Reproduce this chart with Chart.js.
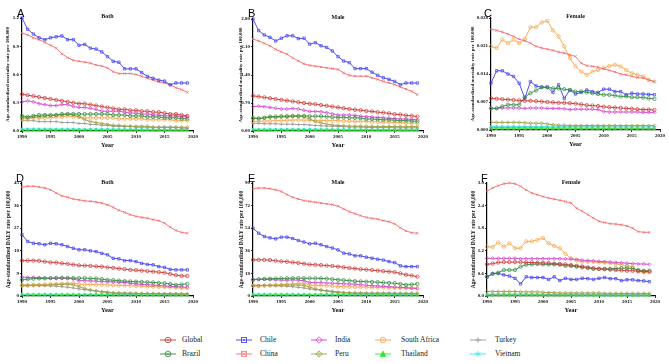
<!DOCTYPE html>
<html>
<head>
<meta charset="utf-8">
<script src="https://cdn.jsdelivr.net/npm/chart.js@4.4.1/dist/chart.umd.min.js"></script>
<style>
body { margin: 0; background: #fff; width: 669px; height: 364px; position: relative; overflow: hidden; }
canvas { position: absolute; }
.letter { position: absolute; font-family: "Liberation Sans", Arial, sans-serif; font-size: 11px; line-height: 11px; color: #000; }
.lg { position: absolute; font-family: "Liberation Serif", "Times New Roman", serif; font-size: 7.5px; color: #222; line-height: 8px; }
.lg svg { position: absolute; }
</style>
</head>
<body>
<canvas id="pA" width="200" height="160" style="left:0;top:0"></canvas>
<canvas id="pB" width="200" height="160" style="left:230px;top:0"></canvas>
<canvas id="pC" width="200" height="160" style="left:467px;top:0"></canvas>
<canvas id="pD" width="200" height="150" style="left:0;top:170px"></canvas>
<canvas id="pE" width="200" height="150" style="left:230px;top:170px"></canvas>
<canvas id="pF" width="200" height="150" style="left:463px;top:170px"></canvas>
<div class="letter" style="left:17px;top:8px">A</div>
<div class="letter" style="left:248px;top:8px">B</div>
<div class="letter" style="left:484px;top:8px">C</div>
<div class="letter" style="left:16px;top:173px">D</div>
<div class="letter" style="left:248px;top:173px">E</div>
<div class="letter" style="left:481px;top:173px">F</div>
<div id="legend"></div>
<script>
const years = [1990,1991,1992,1993,1994,1995,1996,1997,1998,1999,2000,2001,2002,2003,2004,2005,2006,2007,2008,2009,2010,2011,2012,2013,2014,2015,2016,2017,2018,2019];
const countries = ['Global','Brazil','Chile','China','India','Peru','South Africa','Thailand','Turkey','Vietnam'];
const colors = ['#cc3333','#2e8b3e','#3d3df0','#f36b6b','#d23fd2','#9c9c3c','#f7a545','#2ee62e','#9a9a9a','#3ee8e8'];
const markers = ['circle','circle','rect','crossRot','rectRot','rectRot','circle','triangle','cross','star'];

// A: mortality, both
const aGlobal = [0.39,0.38,0.37,0.36,0.35,0.34,0.33,0.32,0.31,0.30,0.29,0.29,0.28,0.27,0.26,0.25,0.24,0.23,0.23,0.22,0.22,0.21,0.21,0.20,0.20,0.19,0.18,0.18,0.17,0.16];
const aBrazil = [0.16,0.15,0.16,0.17,0.17,0.17,0.17,0.18,0.18,0.18,0.18,0.18,0.18,0.18,0.18,0.18,0.17,0.17,0.17,0.16,0.16,0.16,0.15,0.15,0.15,0.14,0.14,0.14,0.13,0.13];
const aChile = [1.20,1.08,1.03,0.99,0.97,0.99,1.00,1.01,0.97,0.97,0.91,0.92,0.88,0.87,0.84,0.79,0.74,0.73,0.66,0.66,0.66,0.62,0.58,0.56,0.54,0.53,0.49,0.51,0.51,0.51];
const aChina = [1.04,1.02,0.99,0.97,0.94,0.91,0.88,0.82,0.78,0.75,0.74,0.73,0.72,0.70,0.69,0.67,0.63,0.61,0.61,0.61,0.60,0.58,0.56,0.54,0.52,0.51,0.49,0.46,0.44,0.41];
const aIndia = [0.31,0.32,0.31,0.29,0.28,0.27,0.27,0.28,0.28,0.26,0.25,0.25,0.24,0.23,0.21,0.21,0.21,0.21,0.20,0.19,0.19,0.18,0.18,0.17,0.17,0.16,0.16,0.16,0.15,0.15];
const aPeru = [0.14,0.14,0.15,0.15,0.16,0.16,0.17,0.17,0.18,0.17,0.15,0.12,0.10,0.09,0.08,0.07,0.06,0.06,0.05,0.05,0.05,0.05,0.05,0.04,0.04,0.04,0.04,0.04,0.04,0.04];
const aSouthAfrica = [0.13,0.13,0.14,0.14,0.14,0.14,0.15,0.15,0.16,0.15,0.15,0.14,0.14,0.14,0.14,0.14,0.14,0.13,0.13,0.13,0.13,0.13,0.12,0.12,0.12,0.12,0.12,0.11,0.11,0.11];
const aThailand = [0.010,0.010,0.010,0.011,0.011,0.011,0.011,0.011,0.011,0.011,0.010,0.010,0.010,0.010,0.010,0.009,0.009,0.009,0.009,0.009,0.009,0.008,0.008,0.008,0.008,0.008,0.008,0.008,0.008,0.008];
const aTurkey = [0.11,0.11,0.11,0.10,0.10,0.10,0.10,0.09,0.09,0.09,0.08,0.08,0.07,0.07,0.06,0.06,0.05,0.05,0.05,0.05,0.04,0.04,0.04,0.04,0.04,0.04,0.04,0.04,0.03,0.03];
const aVietnam = [0.022,0.022,0.022,0.022,0.022,0.022,0.021,0.021,0.021,0.021,0.021,0.020,0.020,0.020,0.020,0.019,0.019,0.019,0.019,0.018,0.018,0.018,0.018,0.017,0.017,0.017,0.017,0.016,0.016,0.016];

// B: mortality, male
const bGlobal = [0.88,0.86,0.84,0.82,0.80,0.78,0.76,0.74,0.72,0.70,0.68,0.67,0.65,0.63,0.61,0.59,0.57,0.55,0.53,0.52,0.50,0.49,0.47,0.46,0.44,0.42,0.41,0.39,0.38,0.36];
const bBrazil = [0.32,0.31,0.33,0.36,0.36,0.37,0.37,0.38,0.38,0.38,0.37,0.37,0.37,0.36,0.35,0.34,0.34,0.33,0.33,0.32,0.30,0.30,0.29,0.28,0.28,0.27,0.26,0.26,0.25,0.24];
const bChile = [2.80,2.51,2.40,2.34,2.25,2.32,2.38,2.38,2.31,2.32,2.17,2.21,2.13,2.09,2.00,1.86,1.75,1.71,1.56,1.56,1.56,1.47,1.39,1.33,1.29,1.24,1.16,1.20,1.20,1.20];
const bChina = [2.30,2.25,2.19,2.13,2.04,1.98,1.92,1.83,1.75,1.68,1.64,1.62,1.60,1.58,1.56,1.54,1.45,1.39,1.37,1.37,1.37,1.33,1.29,1.24,1.20,1.16,1.10,1.05,0.99,0.91];
const bIndia = [0.61,0.62,0.61,0.59,0.57,0.55,0.55,0.56,0.55,0.52,0.49,0.49,0.48,0.46,0.43,0.40,0.40,0.40,0.39,0.37,0.36,0.35,0.34,0.33,0.32,0.31,0.30,0.30,0.29,0.28];
const bPeru = [0.32,0.32,0.33,0.34,0.34,0.35,0.35,0.36,0.36,0.35,0.30,0.24,0.20,0.17,0.15,0.14,0.13,0.12,0.12,0.12,0.12,0.11,0.11,0.11,0.11,0.11,0.11,0.11,0.11,0.11];
const bSouthAfrica = [0.24,0.24,0.25,0.25,0.26,0.26,0.27,0.27,0.28,0.27,0.27,0.26,0.26,0.26,0.26,0.26,0.25,0.25,0.24,0.24,0.24,0.23,0.23,0.22,0.22,0.21,0.21,0.20,0.20,0.19];
const bThailand = [0.022,0.022,0.023,0.023,0.024,0.024,0.024,0.024,0.024,0.023,0.023,0.022,0.022,0.022,0.021,0.021,0.020,0.020,0.020,0.019,0.019,0.019,0.018,0.018,0.018,0.018,0.017,0.017,0.017,0.017];
const bTurkey = [0.19,0.19,0.18,0.18,0.18,0.17,0.17,0.17,0.16,0.16,0.15,0.14,0.13,0.12,0.12,0.11,0.11,0.10,0.10,0.10,0.09,0.09,0.09,0.09,0.09,0.08,0.08,0.08,0.08,0.08];
const bVietnam = [0.048,0.048,0.047,0.047,0.047,0.046,0.046,0.046,0.045,0.045,0.045,0.044,0.044,0.043,0.043,0.042,0.042,0.041,0.041,0.040,0.040,0.039,0.039,0.038,0.038,0.037,0.037,0.036,0.036,0.036];

// C: mortality, female
const cGlobal = [0.0079,0.0078,0.0077,0.0076,0.0075,0.0074,0.0073,0.0073,0.0072,0.0071,0.0070,0.0069,0.0068,0.0068,0.0067,0.0066,0.0064,0.0062,0.0061,0.0060,0.0058,0.0057,0.0056,0.0055,0.0054,0.0053,0.0052,0.0051,0.0051,0.0050];
const cBrazil = [0.0054,0.0054,0.0059,0.0063,0.0063,0.0063,0.0082,0.0092,0.0099,0.0107,0.0107,0.0104,0.0104,0.0102,0.0100,0.0096,0.0096,0.0094,0.0092,0.0090,0.0088,0.0088,0.0086,0.0084,0.0084,0.0082,0.0082,0.0081,0.0079,0.0078];
const cChile = [0.0117,0.0148,0.0148,0.0140,0.0134,0.0117,0.0079,0.0121,0.0110,0.0107,0.0107,0.0094,0.0113,0.0079,0.0100,0.0090,0.0094,0.0100,0.0096,0.0094,0.0102,0.0102,0.0096,0.0096,0.0088,0.0092,0.0090,0.0090,0.0089,0.0088];
const cChina = [0.0252,0.0249,0.0245,0.0240,0.0234,0.0227,0.0223,0.0217,0.0209,0.0205,0.0202,0.0199,0.0195,0.0192,0.0188,0.0184,0.0167,0.0161,0.0159,0.0157,0.0153,0.0149,0.0145,0.0140,0.0138,0.0134,0.0131,0.0130,0.0125,0.0121];
const cIndia = [0.0054,0.0054,0.0055,0.0055,0.0055,0.0055,0.0054,0.0055,0.0055,0.0055,0.0054,0.0054,0.0054,0.0053,0.0051,0.0052,0.0052,0.0052,0.0052,0.0051,0.0046,0.0045,0.0045,0.0045,0.0045,0.0045,0.0045,0.0044,0.0044,0.0044];
const cPeru = [0.0019,0.0019,0.0019,0.0019,0.0019,0.0019,0.0018,0.0017,0.0017,0.0017,0.0015,0.0013,0.0012,0.0012,0.0011,0.0011,0.0011,0.0011,0.0011,0.0011,0.0011,0.0011,0.0011,0.0011,0.0011,0.0011,0.0011,0.0011,0.0011,0.0011];
const cSouthAfrica = [0.0209,0.0205,0.0226,0.0217,0.0226,0.0217,0.0227,0.0257,0.0257,0.0269,0.0273,0.0249,0.0234,0.0209,0.0180,0.0159,0.0146,0.0138,0.0146,0.0150,0.0155,0.0160,0.0163,0.0159,0.0150,0.0142,0.0138,0.0134,0.0125,0.0121];
const cThailand = [0.00030,0.00030,0.00031,0.00031,0.00031,0.00032,0.00032,0.00032,0.00032,0.00031,0.00031,0.00031,0.00030,0.00030,0.00030,0.00029,0.00029,0.00029,0.00028,0.00028,0.00028,0.00027,0.00027,0.00027,0.00026,0.00026,0.00026,0.00025,0.00025,0.00025];
const cTurkey = [0.00060,0.00060,0.00059,0.00059,0.00058,0.00058,0.00057,0.00056,0.00056,0.00055,0.00054,0.00053,0.00052,0.00051,0.00050,0.00049,0.00048,0.00047,0.00046,0.00046,0.00045,0.00045,0.00044,0.00044,0.00044,0.00043,0.00043,0.00043,0.00042,0.00042];
const cVietnam = [0.00090,0.00090,0.00089,0.00089,0.00089,0.00088,0.00088,0.00088,0.00087,0.00087,0.00086,0.00086,0.00085,0.00085,0.00085,0.00084,0.00084,0.00083,0.00083,0.00082,0.00082,0.00081,0.00081,0.00080,0.00080,0.00080,0.00079,0.00079,0.00078,0.00078];

// D: DALY, both
const dGlobal = [14.1,14.1,14.1,14.0,13.7,13.4,13.3,13.0,12.8,12.5,12.2,12.1,12.0,11.8,11.7,11.4,11.2,10.9,10.7,10.4,10.3,10.1,9.9,9.7,9.5,9.3,8.8,8.3,8.0,8.0];
const dBrazil = [6.4,6.7,6.9,7.0,7.0,7.1,7.2,7.2,7.2,7.1,7.1,7.1,7.0,6.9,6.7,6.4,6.3,6.1,5.9,5.8,5.7,5.6,5.5,5.4,5.2,5.1,4.8,4.4,4.6,4.8];
const dChile = [24.4,21.7,21.0,20.8,20.4,21.0,20.8,20.4,19.7,19.0,18.4,18.4,18.0,17.7,17.0,16.4,15.0,14.8,14.1,14.1,13.7,13.0,12.6,12.4,11.7,11.4,10.6,10.4,10.4,10.4];
const dChina = [43.4,43.7,43.7,43.4,43.0,42.3,41.0,39.9,39.3,38.6,38.3,37.9,37.7,37.4,37.0,36.3,35.3,34.1,33.3,32.4,31.7,31.3,31.0,30.4,30.0,29.0,27.4,26.1,25.3,25.0];
const dIndia = [7.5,7.4,7.4,7.3,7.2,7.1,7.0,7.1,7.0,6.8,6.1,6.1,6.0,5.9,5.8,5.7,5.6,5.5,5.4,5.1,4.8,4.6,4.5,4.3,4.2,4.0,3.9,3.7,3.6,3.5];
const dPeru = [4.0,4.1,4.2,4.3,4.3,4.4,4.5,4.6,4.7,4.4,3.7,3.0,2.4,2.0,1.6,1.3,1.2,1.1,1.1,1.1,1.1,1.0,1.0,1.0,0.9,0.9,0.9,0.9,0.8,0.8];
const dSouthAfrica = [4.4,4.3,4.5,4.5,4.6,4.7,4.8,4.9,5.0,5.1,4.7,4.6,4.6,4.5,4.5,4.4,4.3,4.2,4.2,4.1,4.0,3.9,3.8,3.7,3.6,3.5,3.4,3.3,3.2,3.1];
const dThailand = [0.40,0.40,0.41,0.41,0.42,0.42,0.42,0.42,0.42,0.41,0.41,0.40,0.40,0.40,0.39,0.39,0.38,0.38,0.38,0.37,0.37,0.37,0.36,0.36,0.36,0.35,0.35,0.35,0.34,0.34];
const dTurkey = [4.4,4.3,4.2,4.1,4.1,4.0,3.9,3.7,3.5,3.2,2.8,2.5,2.3,2.0,1.8,1.6,1.3,1.2,1.1,1.1,1.0,1.0,1.0,1.0,1.0,0.9,0.9,0.9,0.9,0.9];
const dVietnam = [0.75,0.75,0.74,0.74,0.74,0.73,0.73,0.72,0.72,0.72,0.71,0.71,0.70,0.70,0.69,0.69,0.68,0.68,0.67,0.67,0.66,0.66,0.65,0.65,0.64,0.64,0.63,0.63,0.62,0.62];

// E: DALY, male
const eGlobal = [28.8,28.8,28.8,28.6,28.1,27.6,27.3,26.8,26.3,25.7,25.1,24.8,24.6,24.2,23.9,23.4,22.9,22.3,21.9,21.3,21.0,20.6,20.2,19.8,19.4,19.0,18.0,16.9,16.3,15.4];
const eBrazil = [12.8,13.3,13.6,13.8,13.9,14.0,14.1,14.2,14.2,14.1,14.1,14.1,14.0,13.8,13.4,12.9,12.6,12.2,11.8,11.6,11.4,11.2,11.0,10.7,10.4,10.2,9.6,8.8,9.2,9.6];
const eChile = [54.0,50.0,47.4,46.3,45.5,46.9,46.9,45.8,44.2,43.0,41.5,42.0,40.8,39.4,38.2,36.7,34.1,33.5,32.0,32.0,30.9,30.1,29.3,28.6,27.4,26.6,24.0,23.4,23.4,23.4];
const eChina = [85.5,86.0,86.0,85.5,84.6,83.2,80.8,78.6,77.2,76.0,75.3,74.6,74.0,73.4,72.8,71.5,69.4,67.2,65.6,64.0,62.6,61.8,61.2,60.0,59.2,57.4,54.4,51.8,50.4,50.0];
const eIndia = [13.3,13.2,13.2,13.0,12.9,12.7,12.6,12.8,12.6,12.2,10.7,10.7,10.6,10.4,10.2,10.0,9.8,9.6,9.4,9.0,8.6,8.2,8.0,7.7,7.4,7.1,6.9,6.6,6.3,6.1];
const ePeru = [8.0,8.2,8.4,8.6,8.6,8.7,8.8,8.8,8.8,8.4,7.0,5.8,4.8,3.9,3.2,2.7,2.5,2.4,2.3,2.3,2.3,2.2,2.2,2.2,2.2,2.1,2.1,2.1,2.1,2.1];
const eSouthAfrica = [8.0,7.8,8.3,8.4,8.6,8.9,9.2,9.5,9.8,10.1,8.8,8.5,8.4,8.2,8.0,7.5,7.4,7.3,7.2,7.1,7.0,6.9,6.8,6.7,6.6,6.5,6.4,6.3,6.2,6.1];
const eThailand = [0.80,0.80,0.81,0.82,0.83,0.83,0.84,0.84,0.84,0.83,0.82,0.81,0.80,0.79,0.79,0.78,0.77,0.76,0.75,0.75,0.74,0.73,0.73,0.72,0.71,0.71,0.70,0.70,0.69,0.69];
const eTurkey = [8.8,8.6,8.4,8.2,8.1,7.9,7.7,7.4,6.9,6.4,5.6,5.0,4.6,4.3,3.8,3.3,2.8,2.6,2.4,2.3,2.2,2.2,2.2,2.2,2.2,2.1,2.1,2.1,2.1,2.1];
const eVietnam = [1.50,1.50,1.49,1.48,1.48,1.47,1.46,1.45,1.45,1.44,1.43,1.42,1.41,1.40,1.39,1.38,1.37,1.36,1.35,1.34,1.33,1.32,1.31,1.30,1.29,1.28,1.27,1.26,1.25,1.24];

// F: DALY, female
const fGlobal = [0.84,0.86,0.89,0.90,0.90,0.90,0.90,0.89,0.89,0.88,0.88,0.87,0.86,0.85,0.84,0.82,0.80,0.78,0.76,0.74,0.72,0.71,0.70,0.69,0.68,0.67,0.67,0.66,0.65,0.65];
const fBrazil = [0.51,0.59,0.62,0.69,0.69,0.69,0.78,0.83,0.84,0.85,0.84,0.84,0.84,0.83,0.80,0.80,0.78,0.76,0.74,0.72,0.72,0.72,0.72,0.73,0.74,0.74,0.73,0.69,0.67,0.67];
const fChile = [0.51,0.59,0.60,0.56,0.53,0.47,0.32,0.51,0.49,0.49,0.49,0.44,0.51,0.41,0.47,0.44,0.44,0.47,0.46,0.44,0.47,0.49,0.46,0.46,0.41,0.43,0.43,0.41,0.40,0.38];
const fChina = [2.78,2.87,2.93,2.98,3.00,2.98,2.91,2.82,2.73,2.69,2.64,2.60,2.57,2.54,2.51,2.47,2.33,2.25,2.16,2.07,1.98,1.95,1.92,1.91,1.89,1.86,1.80,1.71,1.69,1.69];
const fIndia = [1.00,1.00,1.00,1.00,1.00,1.00,0.99,0.99,0.99,0.99,0.99,0.99,0.99,0.99,0.98,0.98,0.97,0.95,0.94,0.93,0.92,0.91,0.90,0.89,0.88,0.87,0.86,0.85,0.85,0.84];
const fPeru = [0.12,0.12,0.12,0.12,0.12,0.12,0.11,0.11,0.11,0.11,0.10,0.09,0.09,0.08,0.08,0.08,0.08,0.08,0.08,0.08,0.08,0.07,0.07,0.07,0.07,0.07,0.07,0.07,0.07,0.07];
const fSouthAfrica = [1.31,1.30,1.42,1.31,1.40,1.27,1.27,1.45,1.45,1.49,1.54,1.40,1.33,1.27,1.12,1.00,0.94,0.91,0.91,0.91,0.89,0.89,0.87,0.85,0.83,0.80,0.78,0.65,0.63,0.63];
const fThailand = [0.020,0.020,0.021,0.021,0.021,0.022,0.022,0.022,0.022,0.021,0.021,0.021,0.020,0.020,0.020,0.019,0.019,0.019,0.019,0.018,0.018,0.018,0.018,0.017,0.017,0.017,0.017,0.016,0.016,0.016];
const fTurkey = [0.032,0.032,0.031,0.031,0.031,0.030,0.030,0.030,0.029,0.029,0.028,0.028,0.027,0.027,0.026,0.026,0.025,0.025,0.025,0.024,0.024,0.024,0.023,0.023,0.023,0.023,0.022,0.022,0.022,0.022];
const fVietnam = [0.052,0.052,0.051,0.051,0.051,0.050,0.050,0.050,0.049,0.049,0.049,0.048,0.048,0.048,0.047,0.047,0.047,0.046,0.046,0.046,0.045,0.045,0.045,0.044,0.044,0.044,0.043,0.043,0.043,0.043];

const mortTitle = 'Age-standardized mortality rate per 100,000';
const dalyTitle = 'Age-standardized DALY rate per 100,000';

// small plugin for the Both/Male/Female caption above each plot
const panelTitle = {
    id: 'panelTitle',
    afterDraw(chart, args, opts) {
        const { ctx, chartArea } = chart;
        ctx.save();
        ctx.font = 'bold 6px "Liberation Serif"';
        ctx.fillStyle = '#111';
        ctx.textAlign = 'center';
        ctx.textBaseline = 'alphabetic';
        ctx.fillText(opts.text, (chartArea.left + chartArea.right) / 2, chartArea.top + opts.dy);
        ctx.restore();
    }
};

function makePanel(id, p) {
    const datasets = p.series.map((arr, i) => ({
        label: countries[i],
        data: arr.map((v, j) => ({ x: years[j], y: v })),
        borderColor: colors[i],
        backgroundColor: 'rgba(0,0,0,0)',
        pointBorderColor: colors[i],
        pointBackgroundColor: 'rgba(255,255,255,0)',
        pointStyle: markers[i],
        pointRadius: 1.7,
        pointBorderWidth: 0.7,
        borderWidth: 0.9,
        tension: 0,
        clip: false
    }));
    new Chart(document.getElementById(id), {
        type: 'line',
        data: { datasets },
        plugins: [panelTitle],
        options: {
            responsive: false,
            animation: false,
            layout: { padding: { top: p.padTop, right: p.padRight, left: 0, bottom: 0 } },
            scales: {
                x: {
                    type: 'linear',
                    min: 1990,
                    max: 2020,
                    afterFit: s => { s.height = p.xHeight; },
                    border: { display: true, color: '#000', width: 1.2 },
                    grid: { display: true, drawOnChartArea: false, drawTicks: true, tickLength: 2, color: '#000', lineWidth: 0.8 },
                    ticks: {
                        stepSize: 5,
                        padding: 1,
                        color: '#111',
                        maxRotation: 0,
                        font: { family: 'Liberation Serif', size: 5, weight: 'bold' },
                        callback: v => String(v)
                    },
                    title: {
                        display: true,
                        text: 'Year',
                        color: '#111',
                        padding: { top: 0, bottom: p.xTitlePad },
                        font: { family: 'Liberation Serif', size: 6.5, weight: 'bold' }
                    }
                },
                y: {
                    min: 0,
                    max: p.yMax,
                    afterFit: s => { s.width = p.yWidth; },
                    border: { display: true, color: '#000', width: 1.2 },
                    grid: { display: true, drawOnChartArea: false, drawTicks: true, tickLength: 2, color: '#000', lineWidth: 0.8 },
                    ticks: {
                        stepSize: p.yStep,
                        padding: 1,
                        color: '#111',
                        font: { family: 'Liberation Serif', size: 5, weight: 'bold' },
                        callback: v => p.dec === 0 ? String(Math.round(v)) : Number(v).toFixed(p.dec)
                    },
                    title: {
                        display: true,
                        text: p.yTitle,
                        color: '#111',
                        padding: { top: p.yTitlePad, bottom: 0 },
                        font: { family: 'Liberation Serif', size: p.yTitleSize, weight: 'bold' }
                    }
                }
            },
            plugins: {
                legend: { display: false },
                tooltip: { enabled: false },
                panelTitle: { text: p.title, dy: p.titleDy }
            }
        }
    });
}

makePanel('pA', { series: [aGlobal,aBrazil,aChile,aChina,aIndia,aPeru,aSouthAfrica,aThailand,aTurkey,aVietnam],
    yMax: 1.2, yStep: 0.3, dec: 1, yTitle: mortTitle, yTitleSize: 5, yTitlePad: 5, title: 'Both', titleDy: 0,
    padTop: 18, padRight: 7, yWidth: 22, xHeight: 29, xTitlePad: 11 });
makePanel('pB', { series: [bGlobal,bBrazil,bChile,bChina,bIndia,bPeru,bSouthAfrica,bThailand,bTurkey,bVietnam],
    yMax: 2.8, yStep: 0.7, dec: 2, yTitle: mortTitle, yTitleSize: 5, yTitlePad: 8, title: 'Male', titleDy: 0,
    padTop: 19, padRight: 7, yWidth: 23, xHeight: 29, xTitlePad: 11 });
makePanel('pC', { series: [cGlobal,cBrazil,cChile,cChina,cIndia,cPeru,cSouthAfrica,cThailand,cTurkey,cVietnam],
    yMax: 0.028, yStep: 0.007, dec: 3, yTitle: mortTitle, yTitleSize: 5, yTitlePad: 3, title: 'Female', titleDy: 0,
    padTop: 18, padRight: 7, yWidth: 24, xHeight: 30, xTitlePad: 12 });
makePanel('pD', { series: [dGlobal,dBrazil,dChile,dChina,dIndia,dPeru,dSouthAfrica,dThailand,dTurkey,dVietnam],
    yMax: 45, yStep: 9, dec: 0, yTitle: dalyTitle, yTitleSize: 5.5, yTitlePad: 5, title: 'Both', titleDy: 1,
    padTop: 13, padRight: 7, yWidth: 22, xHeight: 24, xTitlePad: 6 });
makePanel('pE', { series: [eGlobal,eBrazil,eChile,eChina,eIndia,ePeru,eSouthAfrica,eThailand,eTurkey,eVietnam],
    yMax: 90, yStep: 18, dec: 0, yTitle: dalyTitle, yTitleSize: 5.5, yTitlePad: 8, title: 'Male', titleDy: 1,
    padTop: 13, padRight: 7, yWidth: 23, xHeight: 24, xTitlePad: 6 });
makePanel('pF', { series: [fGlobal,fBrazil,fChile,fChina,fIndia,fPeru,fSouthAfrica,fThailand,fTurkey,fVietnam],
    yMax: 3.0, yStep: 0.6, dec: 1, yTitle: dalyTitle, yTitleSize: 5.5, yTitlePad: 7, title: 'Female', titleDy: 1,
    padTop: 13, padRight: 8, yWidth: 24, xHeight: 24, xTitlePad: 6 });

// shared legend below the panels, laid out column by column
const legendCols = [168, 244, 319, 383, 478];
const legendTextGap = [14, 16, 16, 18, 17];
const legendRows = [340, 354];
const svgMarker = (i, c) => {
    const s = markers[i];
    if (s === 'circle') {
        const inner = i === 1
            ? `<path d="M6.6 2.6 L9.4 5.4 M9.4 2.6 L6.6 5.4" stroke="${c}" stroke-width="0.6"/>`
            : `<circle cx="8" cy="4" r="0.8" fill="${c}"/>`;
        return `<circle cx="8" cy="4" r="2.8" fill="none" stroke="${c}" stroke-width="0.8"/>` + inner;
    }
    if (s === 'rect') return `<rect x="5.4" y="1.4" width="5.2" height="5.2" fill="none" stroke="${c}" stroke-width="0.8"/><circle cx="8" cy="4" r="0.8" fill="${c}"/>`;
    if (s === 'crossRot') return `<rect x="5.4" y="1.4" width="5.2" height="5.2" fill="none" stroke="${c}" stroke-width="0.7"/><path d="M5.4 1.4 L10.6 6.6 M10.6 1.4 L5.4 6.6" stroke="${c}" stroke-width="0.6"/>`;
    if (s === 'rectRot') return `<path d="M8 0.8 L11.2 4 L8 7.2 L4.8 4 Z" fill="none" stroke="${c}" stroke-width="0.8"/>` + (i === 5 ? `<path d="M8 1.5 L8 6.5" stroke="${c}" stroke-width="0.6"/>` : '');
    if (s === 'triangle') return `<path d="M8 1 L11 6.6 L5 6.6 Z" fill="${c}" stroke="${c}" stroke-width="0.6"/>`;
    if (s === 'cross') return `<path d="M8 1.2 L8 6.8 M5.2 4 L10.8 4" stroke="${c}" stroke-width="0.9"/>`;
    return `<path d="M8 1 L8 7 M5.4 2.5 L10.6 5.5 M10.6 2.5 L5.4 5.5" stroke="${c}" stroke-width="0.8"/>`;
};
let html = '';
countries.forEach((name, i) => {
    const col = Math.floor(i / 2);
    const cx = legendCols[col];
    const cy = legendRows[i % 2];
    const c = colors[i];
    html += `<div class="lg" style="left:${cx - 8}px;top:${cy - 4}px">` +
        `<svg width="16" height="8" style="left:0;top:0"><line x1="0" y1="4" x2="16" y2="4" stroke="${c}" stroke-width="0.9"/>${svgMarker(i, c)}</svg>` +
        `<span style="position:absolute;left:${8 + legendTextGap[col]}px;top:0;white-space:nowrap">${name}</span></div>`;
});
document.getElementById('legend').innerHTML = html;
</script>
</body>
</html>
